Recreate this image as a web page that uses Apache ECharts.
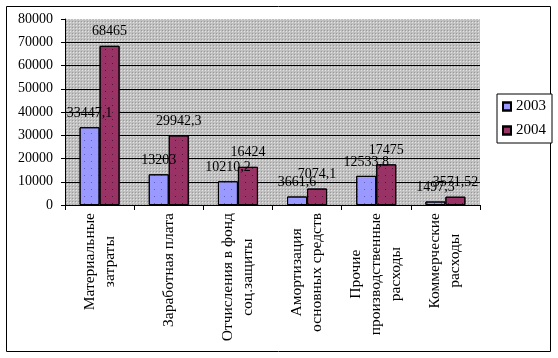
<!DOCTYPE html>
<html><head><meta charset="utf-8">
<script src="https://cdn.jsdelivr.net/npm/echarts@6/dist/echarts.min.js"></script>
<style>html,body{margin:0;padding:0;background:#fff}#c{width:558px;height:358px}</style>
</head><body><div id="c"></div>
<script>
const categories = ["Материальные\nзатраты", "Заработная плата", "Отчисления в фонд\nсоц.защиты", "Амортизация\nосновных средств", "Прочие\nпроизводственные\nрасходы", "Коммерческие\nрасходы"];
const seriesNames = ["2003", "2004"];
const values2003 = [33447.1, 13203, 10210.2, 3661.6, 12533.8, 1497.3];
const values2004 = [68465, 29942.3, 16424, 7074.1, 17475, 3571.52];
const labels2004 = ["68465", "29942,3", "16424", "7074,1", "17475", "3571,52"];
const labels2003 = ["33447,1", "13203", "10210,2", "3661,6", "12533,8", "1497,3"];

const FONT = "'Liberation Serif', 'Times New Roman', serif";

function makePattern() {
  const c = document.createElement('canvas');
  c.width = 3; c.height = 3;
  const g = c.getContext('2d');
  g.fillStyle = '#c0c0c0'; g.fillRect(0, 0, 3, 3);
  g.fillStyle = '#9a9a9a'; g.fillRect(0, 0, 1, 1);
  g.fillStyle = '#e4e4e4'; g.fillRect(1, 1, 1, 1);
  return c;
}

const chart = echarts.init(document.getElementById('c'), null, {renderer: 'canvas'});
const barDecal = (col) => ({symbol: 'rect', symbolSize: 1, color: col, dashArrayX: [1, 6], dashArrayY: [1, 6], rotation: 0});
chart.setOption({
  animation: false,
  aria: {enabled: false, decal: {show: true}},
  textStyle: {fontFamily: FONT},
  graphic: [{type: 'rect', shape: {x: 6.5, y: 6.5, width: 544, height: 345}, style: {fill: 'none', stroke: '#000', lineWidth: 1}, silent: true, z: -1}],
  grid: {left: 65, right: 78, top: 19, bottom: 153, show: true, borderWidth: 0, backgroundColor: {image: makePattern(), repeat: 'repeat'}},
  legend: {
    orient: 'vertical', left: 497, top: 94, data: seriesNames,
    backgroundColor: '#fff', borderColor: '#000', borderWidth: 1,
    padding: [5, 6, 5, 5], itemGap: 9, itemWidth: 8, itemHeight: 8, icon: 'rect',
    textStyle: {fontFamily: FONT, fontSize: 15, color: '#000', padding: [0, 0, 0, 0]}
  },
  xAxis: {
    type: 'category', data: categories,
    axisLine: {lineStyle: {color: '#000', width: 1}},
    axisTick: {show: true, length: 5, lineStyle: {color: '#000'}},
    axisLabel: {
      rotate: 90, margin: 8, interval: 0, fontFamily: FONT, fontSize: 15.5, color: '#000', lineHeight: 20,
      formatter: v => v.split('\n').map(l => '{c|' + l + '}').join('\n'),
      rich: {c: {align: 'center', fontFamily: FONT, fontSize: 15.5, lineHeight: 20, color: '#000'}}
    }
  },
  yAxis: {
    type: 'value', min: 0, max: 80000, interval: 10000,
    axisLine: {show: true, lineStyle: {color: '#000'}},
    axisTick: {show: true, length: 4, lineStyle: {color: '#000'}},
    axisLabel: {fontFamily: FONT, fontSize: 14, color: '#000', margin: 12, formatter: v => String(v)},
    splitLine: {show: true, showMaxLine: false, lineStyle: {color: '#000', width: 1}}
  },
  series: [
    {name: seriesNames[0], type: 'bar', data: values2003, barWidth: 20, barGap: '0%',
     itemStyle: {color: '#9999ff', borderColor: '#000', borderWidth: 1, decal: barDecal('rgba(40,40,120,0.5)')},
     label: {show: true, position: 'top', distance: 7, fontFamily: FONT, fontSize: 14, color: '#000', formatter: p => labels2003[p.dataIndex]}},
    {name: seriesNames[1], type: 'bar', data: values2004, barWidth: 20, barGap: '0%',
     itemStyle: {color: '#993366', borderColor: '#000', borderWidth: 1, decal: barDecal('rgba(0,0,0,0.5)')},
     label: {show: true, position: 'top', distance: 7, fontFamily: FONT, fontSize: 14, color: '#000', formatter: p => labels2004[p.dataIndex]}}
  ]
});
</script></body></html>
